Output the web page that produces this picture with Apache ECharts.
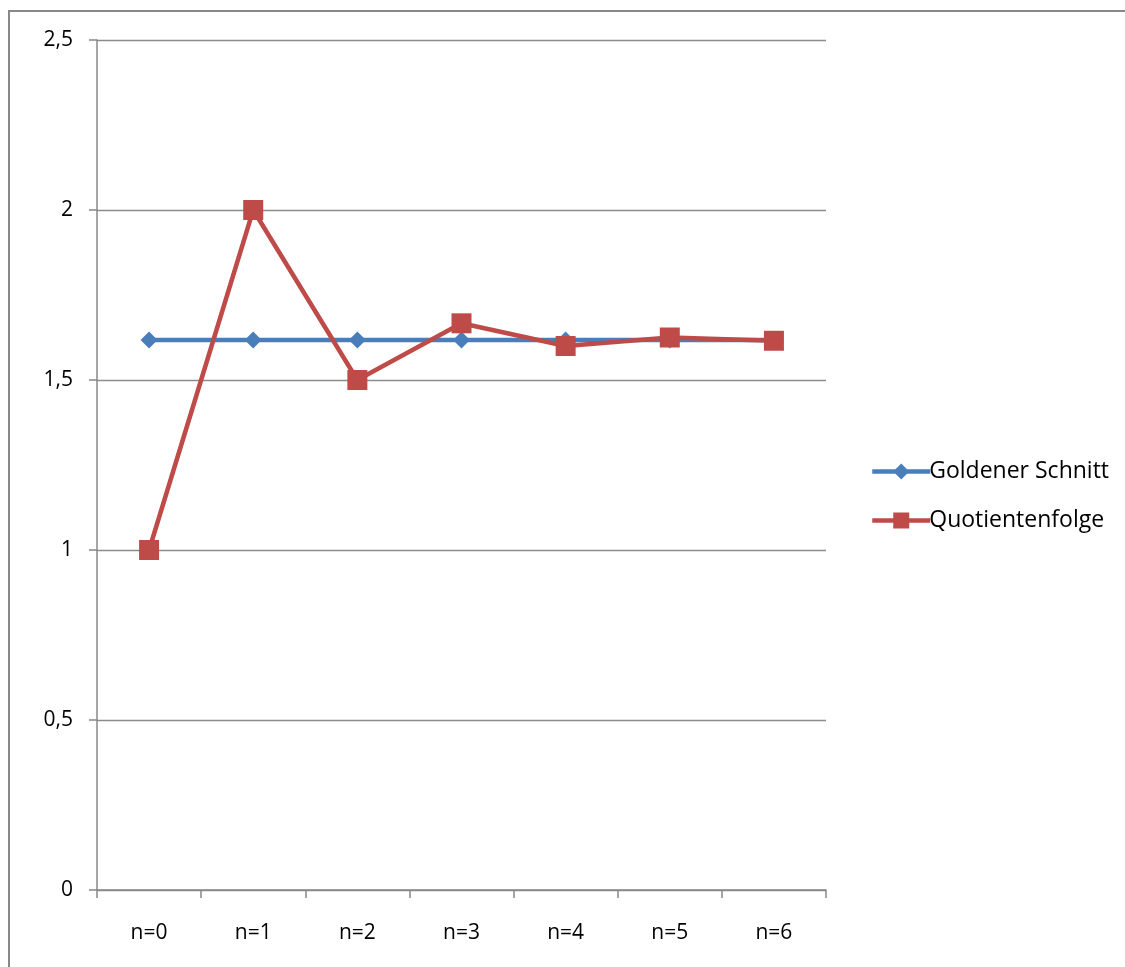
<!DOCTYPE html>
<html><head><meta charset="utf-8">
<script src="https://cdn.jsdelivr.net/npm/echarts@6/dist/echarts.min.js"></script>
<style>html,body{margin:0;padding:0;background:#fff}#c{width:1125px;height:967px}</style>
</head><body><div id="c"></div>
<script>
const categories = ['n=0','n=1','n=2','n=3','n=4','n=5','n=6'];
const goldenerSchnitt = [1.618, 1.618, 1.618, 1.618, 1.618, 1.618, 1.618];
const quotientenfolge = [1, 2, 1.5, 1.6667, 1.6, 1.625, 1.6154];
const yTicks = [0, 0.5, 1, 1.5, 2, 2.5];

const font = '"Open Sans", "Liberation Sans", sans-serif';
const chart = echarts.init(document.getElementById('c'));
chart.setOption({
  animation: false,
  backgroundColor: '#fff',
  graphic: [{type:'rect', shape:{x:9,y:11,width:1200,height:1000}, style:{fill:'none', stroke:'#888', lineWidth:2}, silent:true}],
  grid: {left: 97, right: 299, top: 40, bottom: 77},
  legend: {
    orient: 'vertical', left: 865, top: 455, itemGap: 26,
    itemWidth: 58, itemHeight: 20,
    lineStyle: {width: 4.5},
    textStyle: {fontFamily: font, fontSize: 23, color: '#000', padding:[0,0,0,-6]},
    data: ['Goldener Schnitt', 'Quotientenfolge']
  },
  xAxis: {
    type: 'category', data: categories, boundaryGap: true,
    axisLine: {lineStyle: {color: '#888', width: 1.5}},
    axisTick: {show: true, length: 8, lineStyle: {color: '#888', width: 1.5}},
    axisLabel: {fontFamily: font, fontSize: 21, color: '#000', margin: 33}
  },
  yAxis: {
    type: 'value', min: yTicks[0], max: yTicks[yTicks.length-1], interval: 0.5,
    axisLine: {show: true, lineStyle: {color: '#888', width: 1.5}},
    axisTick: {show: true, length: 8, lineStyle: {color: '#888', width: 1.5}},
    splitLine: {lineStyle: {color: '#8c8c8c', width: 1.3}},
    axisLabel: {fontFamily: font, fontSize: 21, color: '#000', margin: 24,
      formatter: v => String(v).replace('.', ',')}
  },
  series: [
    {name: 'Goldener Schnitt', type: 'line', data: goldenerSchnitt,
     symbol: 'diamond', symbolSize: 17,
     lineStyle: {color: '#4a7ebb', width: 4.5},
     itemStyle: {color: '#4a7ebb'}},
    {name: 'Quotientenfolge', type: 'line', data: quotientenfolge,
     symbol: 'rect', symbolSize: 20,
     lineStyle: {color: '#be4b48', width: 4.5},
     itemStyle: {color: '#be4b48'}}
  ]
});
</script></body></html>
